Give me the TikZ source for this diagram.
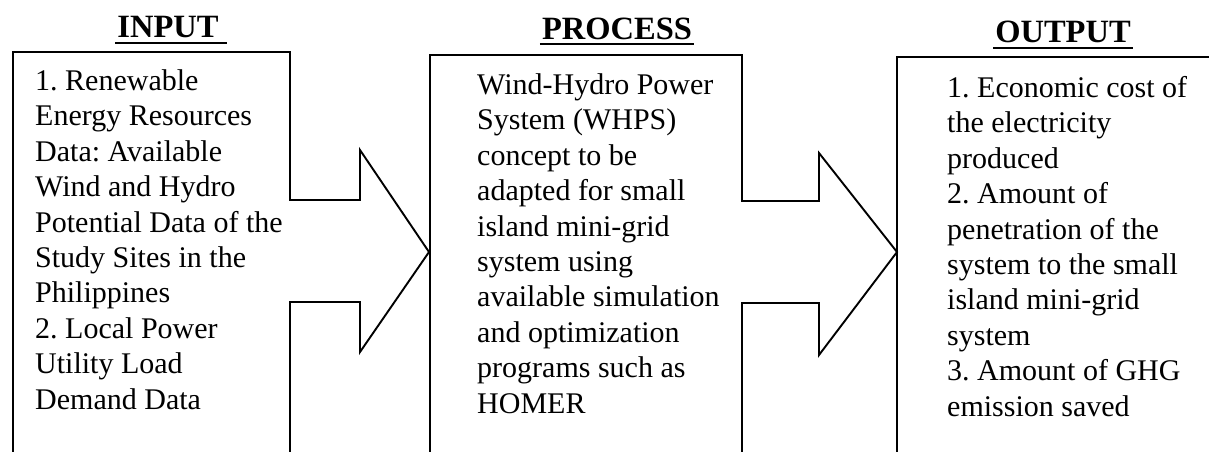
\documentclass[tikz,border=0pt]{standalone}
\usepackage{fontspec}
\setmainfont{Liberation Serif}
\frenchspacing
\begin{document}
\begin{tikzpicture}[x=1pt,y=-1pt,
  frame/.style={line width=1.9pt, line join=miter},
  head/.style={font=\fontsize{32.5}{36}\selectfont\bfseries, anchor=base, inner sep=0pt},
  body/.style={font=\fontsize{30}{35.4}\selectfont\frenchspacing, anchor=base west, align=left, inner sep=0pt},
  uline/.style={line width=1.9pt}]
\useasboundingbox (0,0) rectangle (1209,451);
% headers
\node[head] (hin) at (168,37) {INPUT};
\node[head] (hpr) at (617,39) {PROCESS};
\node[head] (hout) at (1063,42) {OUTPUT};
\draw[uline] ([yshift=-6pt,xshift=-2pt]hin.base west) -- ([yshift=-6pt,xshift=8pt]hin.base east);
\draw[uline] ([yshift=-5pt,xshift=-2pt]hpr.base west) -- ([yshift=-5pt,xshift=2pt]hpr.base east);
\draw[uline] ([yshift=-6pt,xshift=-2pt]hout.base west) -- ([yshift=-6pt,xshift=2pt]hout.base east);
% frames with block arrows
\draw[frame] (13,460) -- (13,52) -- (290,52) -- (290,200) -- (360,200) -- (360,150)
  -- (429,252) -- (360,352) -- (360,302) -- (290,302) -- (290,460);
\draw[frame] (430,460) -- (430,55) -- (742,55) -- (742,201) -- (819,201) -- (819,153)
  -- (897,252) -- (819,355) -- (819,303) -- (742,303) -- (742,460);
\draw[frame] (897,460) -- (897,57) -- (1215,57);
% texts (anchored at the baseline of their last line)
\node[body] (tin) at (35,409) {1. Renewable\\Energy Resources\\Data: Available\\Wind and Hydro\\Potential Data of the\\Study Sites in the\\Philippines\\2. Local Power\\Utility Load\\Demand Data};
\node[body] (tpr) at (477,413) {Wind-Hydro Power\\System (WHPS)\\concept to be\\adapted for small\\island mini-grid\\system using\\available simulation\\and optimization\\programs such as\\HOMER};
\node[body] (tout) at (947,416) {1. Economic cost of\\the electricity\\produced\\2. Amount of\\penetration of the\\system to the small\\island mini-grid\\system\\3. Amount of GHG\\emission saved};
\end{tikzpicture}
\end{document}
